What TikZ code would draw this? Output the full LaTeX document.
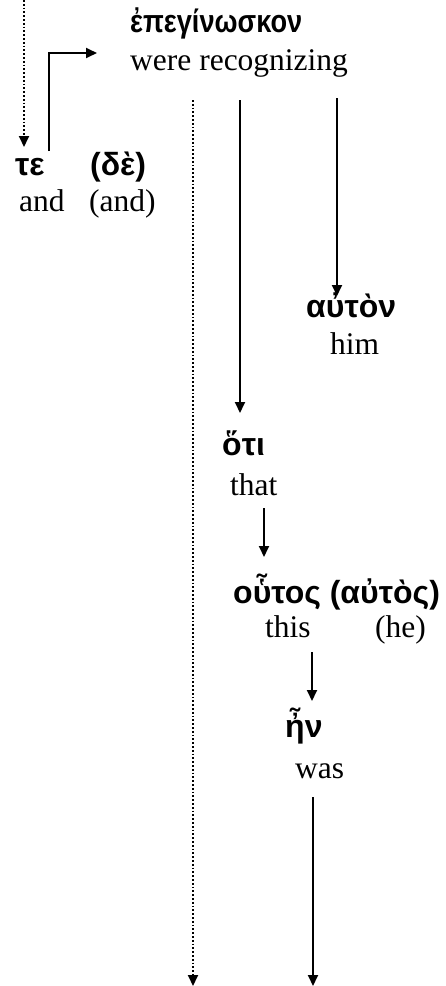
\documentclass[tikz,border=0pt]{standalone}
\usepackage{fontspec}
\setmainfont{Liberation Serif}
\newfontfamily\grk{Liberation Sans}
\usetikzlibrary{arrows.meta}
\begin{document}
\begin{tikzpicture}[x=1pt,y=-1pt,
  gk/.style={font=\grk\bfseries\fontsize{32}{36}\selectfont, inner sep=0pt, anchor=base west},
  en/.style={font=\fontsize{31.5}{36}\selectfont, inner sep=0pt, anchor=base west},
  arr/.style={line width=1.8pt, -{Triangle[length=11pt,width=10pt]}},
  dotarr/.style={arr, dotted}]
\useasboundingbox (0,0) rectangle (446,986);
% words
\node[gk] (verb) at (130,32) {\scalebox{0.85}[1]{ἐπεγίνωσκον}};
\node[en] (verbE) at (130,70) {were recognizing};
\node[gk] (te) at (15,175) {τε};
\node[gk] (de) at (90,175) {(δὲ)};
\node[en] (teE) at (19,211) {and};
\node[en] (deE) at (89,211) {(and)};
\node[gk] (auton) at (306,317) {αὐτὸν};
\node[en] (him) at (330,354) {him};
\node[gk] (hoti) at (222,455) {ὅτι};
\node[en] (that) at (230,495) {that};
\node[gk] (houtos) at (233,603) {οὗτος (αὐτὸς)};
\node[en] (this) at (265,637) {this};
\node[en] (he) at (375,637) {(he)};
\node[gk] (en) at (285,737) {ἦν};
\node[en] (was) at (295,778) {was};
% connector ends
\coordinate (d1s) at (24,0);
\coordinate (d1e) at (24,147);
\coordinate (e1s) at (49,151);
\coordinate (e1e) at (97,53);
\coordinate (d2s) at (193,100);
\coordinate (d2e) at (193,986);
\coordinate (a1s) at (240,100);
\coordinate (a1e) at (240,413);
\coordinate (a2s) at (337,98);
\coordinate (a2e) at (337,296);
\coordinate (a3s) at (264,508);
\coordinate (a3e) at (264,557);
\coordinate (a4s) at (312,652);
\coordinate (a4e) at (312,701);
\coordinate (a5s) at (313,797);
\coordinate (a5e) at (313,986);
% connectors
\draw[dotarr] (d1s) -- (d1e);
\draw[arr] (e1s) |- (e1e);
\draw[dotarr] (d2s) -- (d2e);
\draw[arr] (a1s) -- (a1e);
\draw[arr] (a2s) -- (a2e);
\draw[arr] (a3s) -- (a3e);
\draw[arr] (a4s) -- (a4e);
\draw[arr] (a5s) -- (a5e);
\end{tikzpicture}
\end{document}
